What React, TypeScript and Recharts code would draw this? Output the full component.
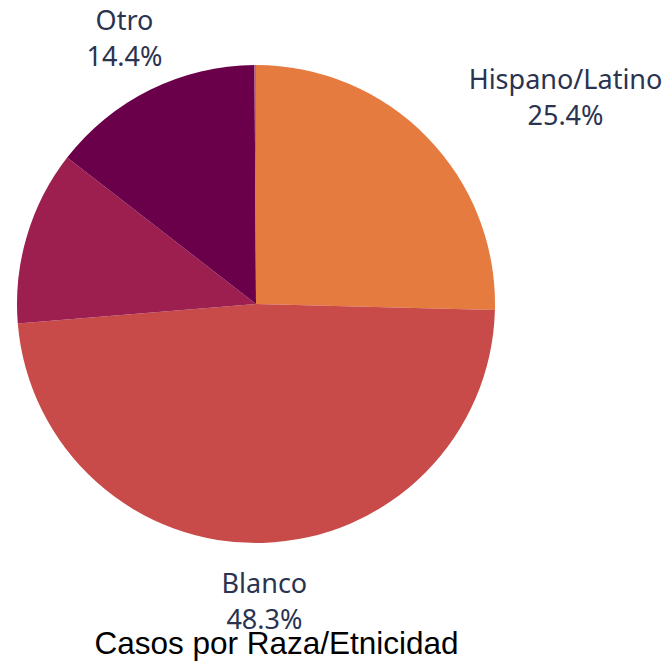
import React from "react";
import { PieChart, Pie, Cell } from "recharts";

const categories = ["Hispano/Latino", "Blanco", "", "Otro", ""];
const values = [25.4, 48.3, 11.8, 14.4, 0.1];
const colors = ["#e67b40", "#c84b49", "#9c1f4f", "#6b004a", "#c0608a"];
const title = "Casos por Raza/Etnicidad";

const data = categories.map((name, i) => ({ name, value: values[i] }));

const RAD = Math.PI / 180;
const LABEL_FONT = "27px 'Noto Sans', sans-serif";

let ctx: CanvasRenderingContext2D | null = null;
const measure = (s: string) => {
  if (typeof document === "undefined") return s.length * 14;
  if (!ctx) ctx = document.createElement("canvas").getContext("2d");
  if (!ctx) return s.length * 14;
  ctx.font = LABEL_FONT;
  return ctx.measureText(s).width;
};

const renderLabel = (props: any) => {
  const { cx, cy, midAngle, outerRadius, index } = props;
  const name = categories[index];
  if (!name) return null;
  const pct = values[index].toFixed(1) + "%";
  const r = outerRadius + 58;
  const cos = Math.cos(-midAngle * RAD);
  const sin = Math.sin(-midAngle * RAD);
  const ax = cx + r * cos;
  const y = cy + r * sin;
  const w = Math.max(measure(name), measure(pct));
  const x = cos > 0.5 ? ax + w / 2 : cos < -0.5 ? ax - w / 2 : ax;
  return (
    <g>
      <text
        x={x}
        y={y - 8}
        textAnchor="middle"
        fill="#2a3350"
        fontFamily="'Noto Sans', sans-serif"
        fontSize={27}
      >
        {name}
      </text>
      <text
        x={x}
        y={y + 28}
        textAnchor="middle"
        fill="#2a3350"
        fontFamily="'Noto Sans', sans-serif"
        fontSize={27}
      >
        {pct}
      </text>
    </g>
  );
};

export default function App() {
  return (
    <div
      style={{
        position: "absolute",
        left: 0,
        top: 0,
        width: 672,
        height: 664,
        background: "#ffffff",
      }}
    >
      <PieChart
        width={672}
        height={664}
        margin={{ top: 0, right: 0, bottom: 0, left: 0 }}
      >
        <Pie
          data={data}
          dataKey="value"
          nameKey="name"
          cx={256}
          cy={304}
          outerRadius={239}
          startAngle={90}
          endAngle={-270}
          stroke="none"
          label={renderLabel}
          labelLine={false}
          isAnimationActive={false}
        >
          {data.map((d, i) => (
            <Cell key={i} fill={colors[i]} />
          ))}
        </Pie>
      </PieChart>
      <div
        style={{
          position: "absolute",
          left: 0,
          width: 553,
          top: 625,
          textAlign: "center",
          fontFamily: "'Liberation Sans', Arial, sans-serif",
          fontSize: 31.5,
          lineHeight: "36px",
          color: "#000000",
          whiteSpace: "nowrap",
        }}
      >
        {title}
      </div>
    </div>
  );
}
